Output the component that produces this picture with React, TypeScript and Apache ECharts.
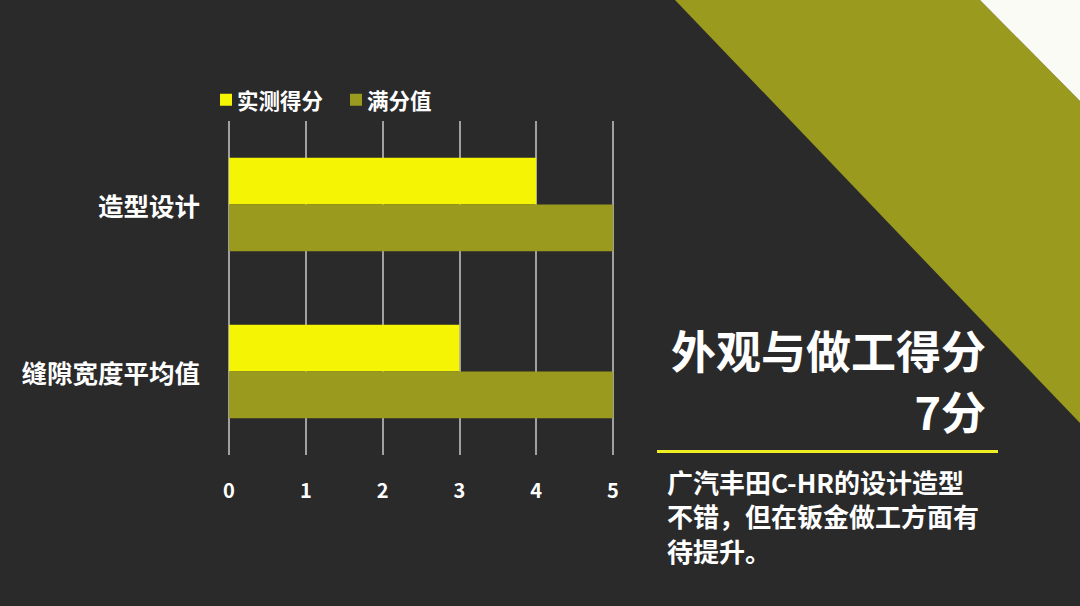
import React, { useEffect, useRef } from "react";
import * as echarts from "echarts";

const categories = ["造型设计", "缝隙宽度平均值"];
const measured = [4, 3];
const fullScore = [5, 5];
const seriesNames = ["实测得分", "满分值"];
const xTicks = [0, 1, 2, 3, 4, 5];
const titleLines = ["外观与做工得分", "7分"];
const bodyLines = ["广汽丰田C-HR的设计造型", "不错，但在钣金做工方面有", "待提升。"];

const FONT = "'Noto Sans CJK SC', 'Noto Sans', sans-serif";
const YELLOW = "#f4f404";
const OLIVE = "#9a9a1e";

export default function App() {
  const ref = useRef<HTMLDivElement>(null);
  useEffect(() => {
    if (!ref.current) return;
    const chart = echarts.init(ref.current, null, { renderer: "svg" });
    chart.setOption({
      animation: false,
      backgroundColor: "#2a2a2b",
      legend: {
        data: seriesNames,
        left: 215,
        top: 84,
        itemWidth: 12,
        itemHeight: 12,
        itemGap: 27,
        icon: "rect",
        textStyle: { color: "#ffffff", fontSize: 21.5, fontWeight: "bold", fontFamily: FONT },
      },
      grid: { left: 229, right: 467, top: 121, bottom: 151, containLabel: false },
      xAxis: {
        type: "value",
        min: xTicks[0],
        max: xTicks[xTicks.length - 1],
        interval: 1,
        axisLine: { show: false },
        axisTick: { show: false },
        axisLabel: { color: "#ffffff", fontSize: 20, fontWeight: "bold", fontFamily: FONT, margin: 24 },
        splitLine: { show: true, lineStyle: { color: "#c8c8c8", width: 1.5 } },
      },
      yAxis: {
        type: "category",
        data: categories,
        inverse: true,
        axisLine: { show: false },
        axisTick: { show: false },
        axisLabel: { color: "#ffffff", fontSize: 25.5, fontWeight: "bold", fontFamily: FONT, margin: 29 },
      },
      series: [
        {
          name: seriesNames[0],
          type: "bar",
          data: measured,
          barGap: "0%",
          barCategoryGap: "44%",
          itemStyle: { color: YELLOW },
        },
        {
          name: seriesNames[1],
          type: "bar",
          data: fullScore,
          barGap: "0%",
          barCategoryGap: "44%",
          itemStyle: { color: OLIVE },
        },
      ],
      graphic: [
        {
          type: "polygon",
          z: -10,
          silent: true,
          shape: { points: [[675, 0], [980, 0], [1080, 101], [1080, 423]] },
          style: { fill: OLIVE },
        },
        {
          type: "polygon",
          z: -10,
          silent: true,
          shape: { points: [[980, 0], [1080, 0], [1080, 101]] },
          style: { fill: "#fbfbf6" },
        },
        {
          type: "text",
          x: 986,
          y: 349,
          style: {
            text: titleLines[0],
            fill: "#ffffff",
            fontSize: 45,
            fontWeight: "bold",
            fontFamily: FONT,
            align: "right",
            verticalAlign: "middle",
          },
        },
        {
          type: "text",
          x: 986,
          y: 410,
          style: {
            text: titleLines[1],
            fill: "#ffffff",
            fontSize: 45,
            fontWeight: "bold",
            fontFamily: FONT,
            align: "right",
            verticalAlign: "middle",
          },
        },
        {
          type: "rect",
          shape: { x: 657, y: 450, width: 341, height: 3 },
          style: { fill: "#eeee22" },
        },
        ...bodyLines.map((t, i) => ({
          type: "text",
          x: 667,
          y: 481 + i * 34.5,
          style: {
            text: t,
            fill: "#ffffff",
            fontSize: 26,
            fontWeight: "bold",
            fontFamily: FONT,
            align: "left",
            verticalAlign: "middle",
          },
        })),
      ],
    });
    return () => chart.dispose();
  }, []);
  return (
    <div
      ref={ref}
      style={{ position: "fixed", left: 0, top: 0, width: 1080, height: 606 }}
    />
  );
}
